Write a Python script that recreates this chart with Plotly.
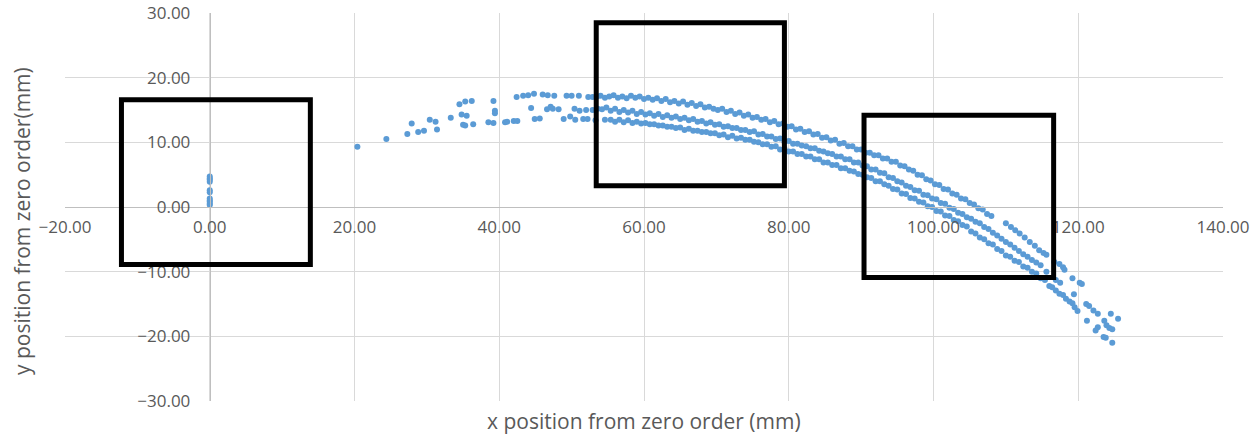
import plotly.graph_objects as go

# ---- data (mm) ----
zero_x = [0.0, 0.0, 0.0, 0.0, 0.0, 0.0, 0.0, 0.0, 0.0, 0.0, 0.0]
zero_y = [4.7, 4.4, 4.2, 3.9, 2.6, 2.3, 1.3, 1.0, 0.8, 0.5, 0.3]

sparse_x = [20.4, 24.4, 27.3, 27.9, 28.8, 29.6, 30.4, 31.2, 31.4, 33.3, 34.5, 35.3, 36.2, 34.8, 35.5,
            35.0, 35.3, 36.4, 38.5, 39.2, 39.2, 39.4, 39.4, 40.8, 41.1, 42.0, 42.5, 42.4, 43.3, 44.0,
            44.8, 44.4, 44.9, 45.6, 46.0, 46.7, 47.6, 46.6, 47.1, 47.4, 48.2, 48.9, 49.8, 50.5, 51.6,
            49.3, 50.0, 51.0, 50.4, 51.1, 52.0, 52.3, 52.9, 53.5, 52.9, 53.6, 52.2, 53.3, 54.6]
sparse_y = [9.3, 10.5, 11.3, 12.9, 11.6, 11.8, 13.5, 13.2, 12.0, 13.8, 15.9, 16.3, 16.4, 14.3, 14.1,
            12.7, 12.6, 12.8, 13.1, 13.0, 16.4, 14.9, 14.5, 13.1, 13.2, 13.3, 13.3, 17.0, 17.2, 17.3,
            17.5, 15.3, 13.6, 13.7, 17.4, 17.3, 17.2, 15.1, 15.5, 15.2, 15.1, 13.6, 14.0, 13.5, 13.6,
            17.2, 17.2, 17.2, 15.2, 14.9, 15.0, 17.0, 17.0, 17.1, 15.0, 15.2, 13.6, 13.4, 13.5]

top_x = [54.0, 54.6, 55.2, 55.8, 56.4, 57.0, 57.6, 58.2, 58.8, 59.4, 60.0, 60.6, 61.2, 61.8, 62.4,
         63.0, 63.6, 64.2, 64.8, 65.4, 66.0, 66.6, 67.2, 67.8, 68.4, 69.0, 69.6, 70.2, 70.8, 71.4,
         72.0, 72.6, 73.2, 73.8, 74.4, 75.0, 75.6, 76.2, 76.8, 77.4, 78.0, 78.6, 79.2, 79.8, 80.4,
         81.0, 81.6, 82.2, 82.8, 83.4, 84.0, 84.6, 85.2, 85.8, 86.4, 87.0, 87.6, 88.2, 88.8, 89.4,
         90.0, 90.6, 91.2, 91.8, 92.4, 93.0, 93.6, 94.2, 94.8, 95.4, 96.0, 96.6, 97.2, 97.8, 98.4,
         99.0, 99.6, 100.2, 100.8, 101.4, 102.0, 102.6, 103.2, 103.8, 104.4, 105.0, 105.6, 106.2,
         106.8, 107.4, 108.0,
         110.0, 110.7, 111.3, 111.9, 112.6, 113.3, 114.0, 114.6, 115.2, 115.6, 116.7, 117.4, 117.9,
         118.1, 119.2, 120.2, 120.5]
top_y = [17.2, 16.9, 17.1, 17.3, 16.9, 17.1, 16.8, 17.2, 16.9, 17.1, 16.7, 16.9, 16.6, 16.8, 16.4,
         16.7, 16.2, 16.4, 16.0, 16.3, 15.8, 16.1, 15.6, 15.9, 15.4, 15.5, 15.2, 15.0, 15.2, 14.7,
         14.9, 14.4, 14.6, 14.1, 14.3, 13.8, 13.9, 13.5, 13.6, 13.1, 13.3, 12.8, 12.9, 12.4, 12.5,
         12.0, 12.1, 11.6, 11.7, 11.2, 11.3, 10.7, 10.8, 10.3, 10.4, 9.8, 9.9, 9.4, 9.4, 8.9,
         8.9, 8.4, 8.4, 8.0, 8.0, 7.5, 7.5, 7.0, 7.0, 6.4, 6.3, 5.8, 5.6, 5.0, 4.9,
         4.3, 4.1, 3.5, 3.4, 2.8, 2.7, 2.1, 1.9, 1.3, 1.2, 0.6, 0.4, -0.2,
         -0.4, -1.1, -1.4,
         -2.5, -3.1, -3.6, -4.1, -4.7, -5.4, -6.0, -6.7, -7.1, -7.4, -8.5, -8.8, -9.3,
         -9.7, -11.0, -11.7, -11.9]

mid_x = [54.2, 54.8, 55.4, 56.0, 56.6, 57.2, 57.8, 58.4, 59.0, 59.6, 60.2, 60.8, 61.4, 62.0, 62.6,
         63.2, 63.8, 64.4, 65.0, 65.6, 66.2, 66.8, 67.4, 68.0, 68.6, 69.2, 69.8, 70.4, 71.0, 71.6,
         72.2, 72.8, 73.4, 74.0, 74.6, 75.2, 75.8, 76.4, 77.0, 77.6, 78.2, 78.8, 79.4, 80.0, 80.6,
         81.2, 81.8, 82.4, 83.0, 83.6, 84.2, 84.8, 85.4, 86.0, 86.6, 87.2, 87.8, 88.4, 89.0, 89.6,
         90.2, 90.8, 91.4, 92.0, 92.6, 93.2, 93.8, 94.4, 95.0, 95.6, 96.2, 96.8, 97.4, 98.0, 98.6,
         99.2, 99.8, 100.4, 101.0, 101.6, 102.2, 102.8, 103.4, 104.0, 104.6, 105.2, 105.8, 106.4,
         107.0, 107.6, 108.2, 108.8, 109.4, 110.0, 110.6, 111.2, 111.8, 112.4, 113.0, 113.6, 114.2,
         114.8, 115.6, 116.9, 117.5, 119.4]
mid_y = [15.1, 15.4, 14.9, 15.2, 14.7, 15.0, 14.6, 14.9, 14.4, 14.7, 14.3, 14.5, 14.1, 14.4, 13.9,
         14.2, 13.8, 14.0, 13.6, 13.8, 13.4, 13.6, 13.2, 13.3, 12.9, 13.1, 12.7, 12.8, 12.4, 12.5,
         12.2, 12.2, 11.9, 11.9, 11.6, 11.7, 11.2, 11.3, 10.9, 10.9, 10.5, 10.6, 10.1, 10.2, 9.8,
         9.8, 9.5, 9.4, 9.1, 9.1, 8.7, 8.6, 8.3, 8.2, 7.8, 7.8, 7.4, 7.4, 6.9, 6.9,
         6.4, 6.3, 5.8, 5.8, 5.3, 5.2, 4.6, 4.5, 4.0, 3.8, 3.3, 3.1, 2.6, 2.5, 1.9,
         1.8, 1.3, 1.2, 0.6, 0.5, -0.1, -0.3, -0.9, -1.1, -1.6, -1.8, -2.3, -2.5,
         -3.1, -3.4, -4.0, -4.4, -4.9, -5.4, -5.8, -6.3, -6.8, -7.3, -7.7, -8.2, -8.6,
         -9.0, -10.0, -11.3, -11.7, -13.5]

bot_x = [55.4, 56.0, 56.6, 57.2, 57.8, 58.4, 59.0, 59.6, 60.2, 60.8, 61.4, 62.0, 62.6, 63.2, 63.8,
         64.4, 65.0, 65.6, 66.2, 66.8, 67.4, 68.0, 68.6, 69.2, 69.8, 70.4, 71.0, 71.6, 72.2, 72.8,
         73.4, 74.0, 74.6, 75.2, 75.8, 76.4, 77.0, 77.6, 78.2, 78.8, 79.4, 80.0, 80.6, 81.2, 81.8,
         82.4, 83.0, 83.6, 84.2, 84.8, 85.4, 86.0, 86.6, 87.2, 87.8, 88.4, 89.0, 89.6, 90.2, 90.8,
         91.4, 92.0, 92.6, 93.2, 93.8, 94.4, 95.0, 95.6, 96.2, 96.8, 97.4, 98.0, 98.6, 99.2, 99.8,
         100.4, 101.0, 101.6, 102.2, 102.8, 103.4, 104.0, 104.6, 105.2, 105.8, 106.4, 107.0, 107.6,
         108.2, 108.8, 109.4, 110.0, 110.6, 111.2, 111.8, 112.4, 113.0, 113.6, 114.2, 114.8, 115.4,
         116.0, 116.4, 116.9, 117.4, 117.9, 118.3, 118.8, 119.2, 119.5, 119.9]
bot_y = [13.5, 13.2, 13.5, 13.1, 13.4, 13.0, 13.2, 12.9, 13.0, 12.8, 12.8, 12.6, 12.6, 12.4, 12.4,
         12.2, 12.3, 11.9, 12.1, 11.8, 11.8, 11.6, 11.6, 11.4, 11.4, 11.1, 11.2, 10.8, 11.0, 10.6,
         10.7, 10.4, 10.4, 10.1, 10.0, 9.7, 9.7, 9.3, 9.4, 8.9, 9.0, 8.6, 8.6, 8.2, 8.2,
         7.8, 7.8, 7.4, 7.4, 6.9, 6.9, 6.5, 6.5, 6.0, 6.0, 5.6, 5.5, 5.1, 5.0, 4.6,
         4.5, 4.0, 4.0, 3.5, 3.3, 2.8, 2.7, 2.1, 2.0, 1.4, 1.3, 0.8, 0.7, 0.1, 0.0,
         -0.6, -0.7, -1.3, -1.4, -2.0, -2.2, -2.8, -3.0, -3.8, -4.1, -4.7, -5.0, -5.6,
         -5.8, -6.5, -6.8, -7.5, -7.7, -8.3, -8.5, -9.2, -9.4, -10.0, -10.3, -11.0, -11.3,
         -12.2, -12.4, -12.9, -13.4, -13.6, -14.2, -14.6, -14.9, -15.5, -16.1]

tail_x = [121.1, 121.5, 122.1, 122.7, 121.2, 123.6, 124.5, 125.5, 122.7, 122.4, 123.9, 124.3,
          124.7, 123.5, 123.8, 124.7]
tail_y = [-15.0, -15.3, -16.0, -16.5, -17.6, -17.6, -16.5, -17.3, -18.6, -19.1, -18.3, -18.7,
          -18.9, -20.1, -20.2, -21.0]

# highlight boxes: (x0, x1, y0, y1) in mm
box_x0 = [-12.2, 53.4, 90.4]
box_x1 = [13.9, 79.4, 116.6]
box_y0 = [-8.9, 3.3, -10.9]
box_y1 = [16.6, 28.5, 14.2]

x_ticks = [-20, 0, 20, 40, 60, 80, 100, 120, 140]
y_ticks = [-30, -20, -10, 0, 10, 20, 30]

all_x = zero_x + sparse_x + top_x + mid_x + bot_x + tail_x
all_y = zero_y + sparse_y + top_y + mid_y + bot_y + tail_y

FONT = "Open Sans"
GREY = "#595959"

fig = go.Figure()
fig.add_trace(go.Scatter(
    x=all_x, y=all_y, mode="markers",
    marker=dict(color="#5B9BD5", size=6, line=dict(width=0)),
    showlegend=False, hoverinfo="x+y"))

for x0, x1, y0, y1 in zip(box_x0, box_x1, box_y0, box_y1):
    fig.add_shape(type="rect", xref="x", yref="y", x0=x0, x1=x1, y0=y0, y1=y1,
                  line=dict(color="black", width=5), fillcolor="rgba(0,0,0,0)")

fig.update_layout(
    width=1260, height=437,
    margin=dict(l=65, r=37, t=13, b=36, autoexpand=False),
    paper_bgcolor="white", plot_bgcolor="white",
    font=dict(family=FONT, color=GREY, size=17),
    xaxis=dict(range=[-20, 140], tickvals=x_ticks, tickformat=".2f", automargin=False,
               showgrid=True, gridcolor="#D9D9D9", gridwidth=1,
               zeroline=False, showline=True, linecolor="#BFBFBF", linewidth=1,
               anchor="free", position=0.5, ticks="", ticklabelstandoff=5,
               tickfont=dict(family=FONT, size=17, color=GREY)),
    yaxis=dict(range=[-30, 30], tickvals=y_ticks, tickformat=".2f", domain=[0, 1],
               automargin=False,
               showgrid=True, gridcolor="#D9D9D9", gridwidth=1,
               zeroline=False, showline=True, linecolor="#BFBFBF", linewidth=1,
               anchor="free", position=0.125, ticks="", ticklabelstandoff=16,
               tickfont=dict(family=FONT, size=17, color=GREY)),
    annotations=[
        dict(text="x position from zero order (mm)", xref="paper", yref="paper",
             x=0.5, y=-(421 - 401) / 388, xanchor="center", yanchor="middle",
             showarrow=False, font=dict(family=FONT, size=21, color=GREY)),
        dict(text="y position from zero order(mm)", xref="paper", yref="paper",
             x=(22 - 65) / 1158, y=(401 - 221) / 388, xanchor="center", yanchor="middle",
             textangle=-90, showarrow=False, font=dict(family=FONT, size=21, color=GREY)),
    ],
)

fig.write_html("out.html")
